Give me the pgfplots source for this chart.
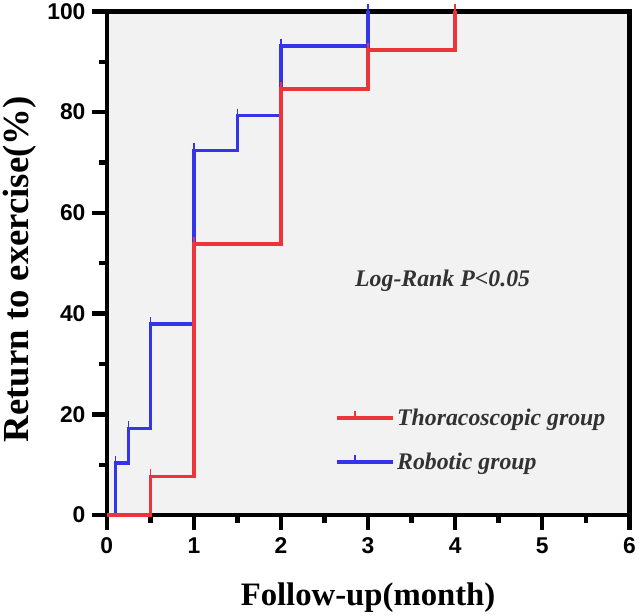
\documentclass[border=0pt]{standalone}
\usepackage{fontspec}
\setmainfont{Liberation Serif}
\newfontfamily\arialfont{Liberation Sans}
\usepackage{pgfplots}
\pgfplotsset{compat=1.18}
\definecolor{kmred}{RGB}{236,52,58}
\definecolor{kmblue}{RGB}{52,52,232}
\definecolor{bggray}{RGB}{242,242,242}
\definecolor{txtgray}{RGB}{50,50,50}
\begin{document}
\begin{tikzpicture}
\begin{axis}[
  scale only axis,
  width=527pt, height=508pt,
  xmin=0, xmax=6, ymin=0, ymax=100,
  xtick={0,1,2,3,4,5,6},
  ytick={0,20,40,60,80,100},
  minor xtick={0.5,1.5,2.5,3.5,4.5,5.5},
  minor ytick={10,30,50,70,90},
  xtick pos=bottom, ytick pos=left,
  tick align=outside,
  major tick length=15pt,
  minor tick length=8pt,
  every tick/.style={black, line width=4.5pt},
  axis line style={black, line width=4.5pt},
  axis background/.style={fill=bggray},
  tick label style={font=\arialfont\bfseries\fontsize{23}{23}\selectfont},
  /pgf/number format/assume math mode=true,
  xticklabel style={yshift=-4pt},
  yticklabel style={xshift=-3pt},
  xlabel={Follow-up(month)},
  ylabel={Return to exercise(\%)},
  xlabel style={font=\bfseries\fontsize{33}{33}\selectfont, yshift=-22pt},
  ylabel style={font=\bfseries\fontsize{37}{37}\selectfont, yshift=4pt, xshift=-6pt},
  clip=false,
  reverse legend,
  legend style={at={(axis cs:2.62,21.5)}, anchor=north west, draw=none, fill=none,
    font=\bfseries\itshape\fontsize{24}{24}\selectfont, text=txtgray,
    row sep=22pt, inner sep=0pt},
  legend cell align=left,
  legend image code/.code={
    \path (0pt,0pt) -- (57pt,0pt);
    \draw[#1, mark=none] (0pt,0pt) -- (37pt,0pt);
    \draw[#1, mark=none, line width=1.6pt] (18.5pt,0pt) -- (18.5pt,7pt);
  },
]
\addplot[kmblue, line width=3.5pt, const plot, mark=|, mark indices={2,3,4,5,6,7,8},
  mark options={yshift=3.5pt, line width=1.6pt, mark size=3.5pt}]
  coordinates {(0,0) (0.1,10.34) (0.25,17.24) (0.5,37.93) (1,72.41) (1.5,79.31) (2,93.10) (3,100)};
\addlegendentry{Robotic group}
\addplot[kmred, line width=3.5pt, const plot, mark=|, mark indices={2,3,4,5,6},
  mark options={yshift=3.5pt, line width=1.6pt, mark size=3.5pt}]
  coordinates {(0,0) (0.5,7.69) (1,53.85) (2,84.62) (3,92.31) (4,100)};
\addlegendentry{Thoracoscopic group}
\node[anchor=west, text=txtgray, font=\bfseries\itshape\fontsize{24}{24}\selectfont, inner sep=0pt]
  at (axis cs:2.85,46.6) {Log-Rank P<0.05};
\end{axis}
\end{tikzpicture}
\end{document}
